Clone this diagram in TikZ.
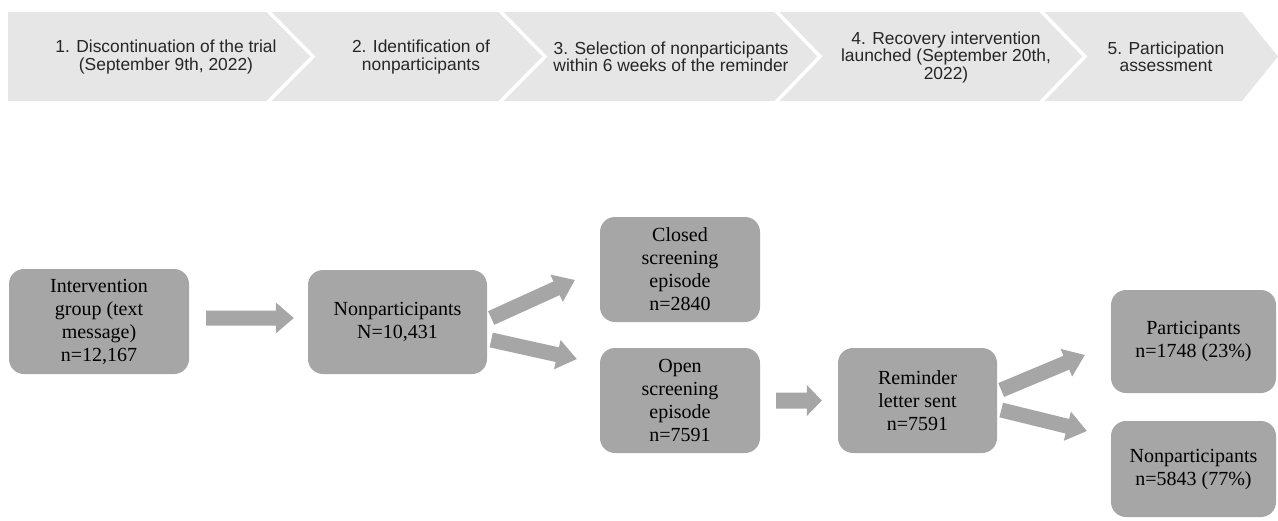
\documentclass[tikz,border=0pt]{standalone}
\usepackage{fontspec}
\setmainfont{Liberation Serif}
\newfontfamily\arialf{Liberation Sans}
\usetikzlibrary{calc}
\definecolor{boxgray}{HTML}{A6A6A6}
\definecolor{bandgray}{HTML}{E7E6E6}
\newcommand{\blockarr}[5]{% start, tip, half shaft, half head, head length
  \coordinate (ba-h) at ($(#2)!#5!(#1)$);
  \fill[boxgray] ($(#1)!#3!90:(#2)$) -- ($(ba-h)!#3!-90:(#1)$) -- ($(ba-h)!#4!-90:(#1)$) -- (#2) -- ($(ba-h)!#4!90:(#1)$) -- ($(ba-h)!#3!90:(#1)$) -- ($(#1)!#3!-90:(#2)$) -- cycle;}
\begin{document}
\begin{tikzpicture}[x=1pt,y=-1pt,
  box/.style={fill=boxgray, rounded corners=15pt, align=center, inner sep=0pt,
    font=\fontsize{20}{23}\selectfont, text=black},
  stage/.style={align=center, inner sep=0pt, font=\arialf\fontsize{17.4}{17.5}\selectfont, text=black!85},
  sep/.style={draw=white, line width=3.5pt, line join=miter}]
\useasboundingbox (0,0) rectangle (1278,520);
\fill[bandgray] (8,12) -- (1242,12) -- (1278,56.5) -- (1242,101) -- (8,101) -- cycle;
\draw[sep] (267,10) -- (313,56.5) -- (267,103);
\draw[sep] (499,10) -- (545,56.5) -- (499,103);
\draw[sep] (775,10) -- (820,56.5) -- (775,103);
\draw[sep] (1040,10) -- (1085,56.5) -- (1040,103);

\node[stage] (s1) at (166,57) {1. Discontinuation of the trial\\(September 9th, 2022)};
\node[stage] (s2) at (421,57) {2. Identification of\\nonparticipants};
\node[stage] (s3) at (671,57) {3. Selection of nonparticipants\\within 6 weeks of the reminder};
\node[stage] (s4) at (946,57) {4. Recovery intervention\\launched (September 20th,\\2022)};
\node[stage] (s5) at (1166,57) {5. Participation\\assessment};

\node[box, minimum width=180pt, minimum height=105pt] (a) at (99,321.5) {Intervention\\group (text\\message)\\n=12,167};
\node[box, minimum width=179pt, minimum height=104pt] (b) at (397.5,322) {Nonparticipants\\N=10,431};
\node[box, minimum width=160pt, minimum height=105pt] (c) at (680,269.5) {Closed\\screening\\episode\\n=2840};
\node[box, minimum width=160pt, minimum height=105pt] (d) at (680,400.5) {Open\\screening\\episode\\n=7591};
\node[box, minimum width=159pt, minimum height=105pt] (e) at (917.5,400.5) {Reminder\\letter sent\\n=7591};
\node[box, minimum width=165pt, minimum height=103pt] (f) at (1193.5,341.5) {Participants\\n=1748 (23\%)};
\node[box, minimum width=165pt, minimum height=96pt] (g) at (1193.5,469) {Nonparticipants\\n=5843 (77\%)};

\coordinate (ab0) at ($(a.east)+(17,-3.5)$);
\coordinate (ab1) at ($(b.west)+(-14,-4)$);
\coordinate (bc0) at ($(b.east)+(4,-4)$);
\coordinate (bc1) at ($(c.west)+(-25,10.5)$);
\coordinate (bd0) at ($(b.east)+(4,18)$);
\coordinate (bd1) at ($(d.west)+(-23,-41.5)$);
\coordinate (de0) at ($(d.east)+(16,0)$);
\coordinate (de1) at ($(e.west)+(-16,0)$);
\coordinate (ef0) at ($(e.east)+(4,-10.5)$);
\coordinate (ef1) at ($(f.west)+(-26,13.5)$);
\coordinate (eg0) at ($(e.east)+(4,9.5)$);
\coordinate (eg1) at ($(g.west)+(-24,-38)$);

\blockarr{ab0}{ab1}{7.5pt}{15.5pt}{18pt}
\blockarr{bc0}{bc1}{7.5pt}{15pt}{20pt}
\blockarr{bd0}{bd1}{7.5pt}{15pt}{20pt}
\blockarr{de0}{de1}{8pt}{15.5pt}{15pt}
\blockarr{ef0}{ef1}{7.5pt}{15pt}{20pt}
\blockarr{eg0}{eg1}{7.5pt}{15pt}{20pt}
\end{tikzpicture}
\end{document}
